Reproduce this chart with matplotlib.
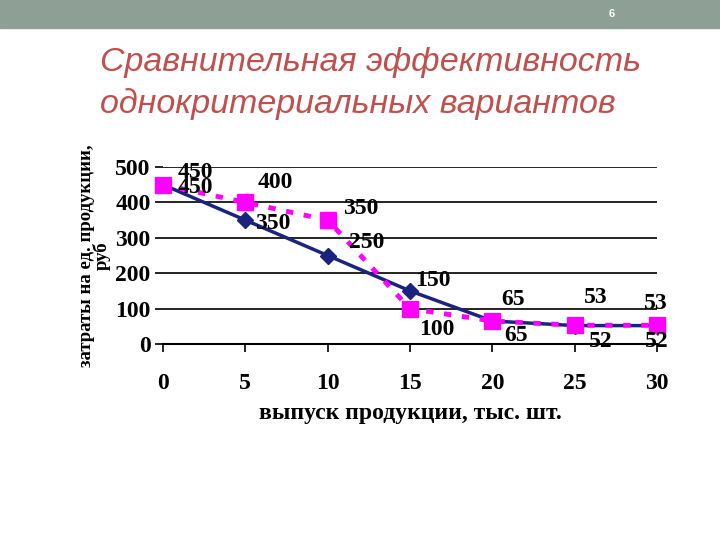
import matplotlib
matplotlib.use('Agg')
import matplotlib.pyplot as plt

x = [0, 5, 10, 15, 20, 25, 30]
blue_vals = [450, 350, 250, 150, 65, 52, 52]
pink_vals = [450, 400, 350, 100, 65, 53, 53]

title = 'Сравнительная эффективность\nоднокритериальных вариантов'
xlabel = 'выпуск продукции, тыс. шт.'
ylabel = 'затраты на ед. продукции,\nруб'

# label offsets in pixels (dx, dy up)
blue_off = [(32, -3), (27, -3), (39, 13), (23, 10), (24, -15), (26, -16), (0, -16)]
pink_off = [(32, 12), (30, 20), (33, 12), (27, -21), (21, 21), (21, 28), (-1, 22)]

serif = 'Liberation Serif'
navy = '#1a237e'
pink = '#ff00ff'

fig = plt.figure(figsize=(7.2, 5.4), dpi=100)
fig.patches.append(plt.Rectangle((0, 1 - 28/540), 1, 28/540, transform=fig.transFigure,
                                 color='#8e9f95', zorder=0))
fig.text(612/720, 1 - 14/540, '6', color='white', fontsize=8, ha='center', va='center',
         family='Liberation Sans', fontweight='bold')
fig.text(100/720, 1 - 83/540, title, color='#c0504d', fontsize=24.5, style='italic',
         family='Liberation Sans', ha='left', va='center', linespacing=1.4)

ax = fig.add_axes([163/720, 1 - 344/540, (657 - 163)/720, (344 - 167)/540])
ax.set_xlim(0, 30)
ax.set_ylim(0, 500)
for s in ['top', 'right', 'left']:
    ax.spines[s].set_visible(False)
ax.spines['bottom'].set_linewidth(1.5)
ax.set_yticks(range(0, 501, 100))
ax.set_xticks(x)
ax.yaxis.grid(True, color='black', linewidth=1.2)
ax.tick_params(axis='y', length=6, width=1.2, pad=3)
ax.tick_params(axis='x', length=6, width=1.2, pad=15)
for lab in ax.get_xticklabels() + ax.get_yticklabels():
    lab.set_family(serif)
    lab.set_fontweight('bold')
    lab.set_fontsize(17)

ax.plot(x, blue_vals, color=navy, linewidth=2.5, marker='D', markersize=8, zorder=3,
        clip_on=False)
ax.plot(x, pink_vals, color=pink, linewidth=3.5, linestyle=(0, (1.5, 2.2)), marker='s',
        markersize=11, zorder=4, clip_on=False)

for xi, v, (dx, dy) in zip(x, blue_vals, blue_off):
    ax.annotate(str(v), (xi, v), xytext=(dx, dy), textcoords='offset pixels',
                ha='center', va='center', family=serif, fontweight='bold', fontsize=17,
                zorder=5)
for xi, v, (dx, dy) in zip(x, pink_vals, pink_off):
    ax.annotate(str(v), (xi, v), xytext=(dx, dy), textcoords='offset pixels',
                ha='center', va='center', family=serif, fontweight='bold', fontsize=17,
                zorder=5)

ax.set_xlabel(xlabel, family=serif, fontweight='bold', fontsize=17, labelpad=6)
ax.set_ylabel(ylabel, family=serif, fontweight='bold', fontsize=13.5, labelpad=3,
              linespacing=0.85)

fig.savefig('out.png', dpi=100)
